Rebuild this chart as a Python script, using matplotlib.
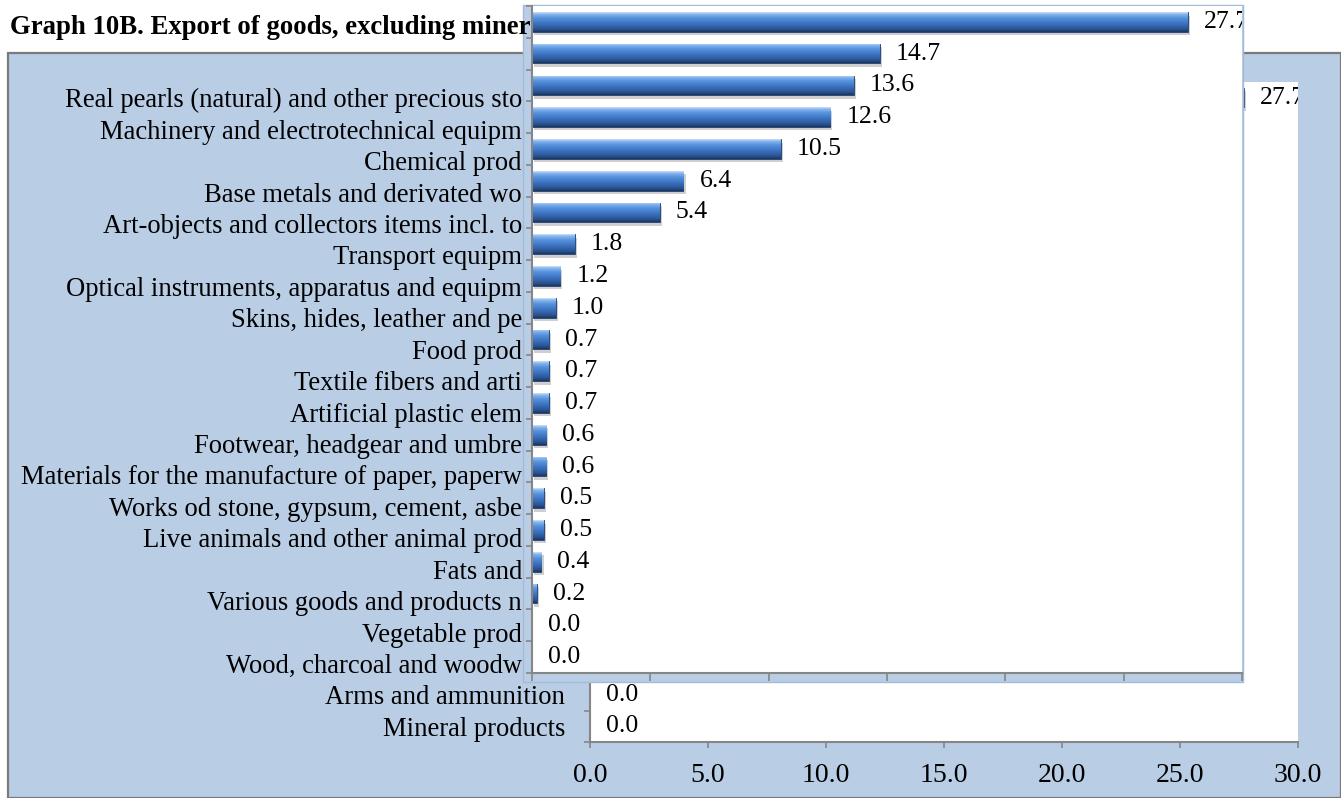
import numpy as np
import matplotlib
matplotlib.use("Agg")
import matplotlib.pyplot as plt
from matplotlib.patches import Rectangle
from matplotlib.colors import LinearSegmentedColormap
from matplotlib.transforms import offset_copy
import matplotlib.patheffects as pe

plt.rcParams['font.family'] = ['Liberation Serif', 'DejaVu Serif']

title = "Graph 10B. Export of goods, excluding miner"
categories = [
    "Real pearls (natural) and other precious sto",
    "Machinery and electrotechnical equipm",
    "Chemical prod",
    "Base metals and derivated wo",
    "Art-objects and collectors items incl. to",
    "Transport equipm",
    "Optical instruments, apparatus and equipm",
    "Skins, hides, leather and pe",
    "Food prod",
    "Textile fibers and arti",
    "Artificial plastic elem",
    "Footwear, headgear and umbre",
    "Materials for the manufacture of paper, paperw",
    "Works od stone, gypsum, cement, asbe",
    "Live animals and other animal prod",
    "Fats and",
    "Various goods and products n",
    "Vegetable prod",
    "Wood, charcoal and woodw",
    "Arms and ammunition",
    "Mineral products",
]
values = [27.7, 14.7, 13.6, 12.6, 10.5, 6.4, 5.4, 1.8, 1.2, 1.0, 0.7, 0.7,
          0.7, 0.6, 0.6, 0.5, 0.5, 0.4, 0.2, 0.0, 0.0]
# labels that are fully visible (not cut by the overlapping inset window)
full_label = [False] * 19 + [True, True]
xticks = [0, 5, 10, 15, 20, 25, 30]

W, H = 1341, 798
fig = plt.figure(figsize=(W / 100, H / 100), dpi=100)
fig.patch.set_facecolor('white')

PANEL = '#b9cde5'
AXIS = '#868686'

# light-blue panel with grey border
fig.add_artist(Rectangle((8 / W, 0), (W - 8) / W, (H - 53) / H,
                         transform=fig.transFigure, facecolor=PANEL,
                         edgecolor='#7a7a7a', lw=1.6, zorder=-5))

fig.text(10 / W, 1 - 27 / H, title, fontsize=19.3, fontweight='bold',
         va='center', ha='left', zorder=3)

cmap = LinearSegmentedColormap.from_list('bar', [
    (0.0, '#cfe0f7'), (0.10, '#86b6ee'), (0.30, '#5592dc'),
    (0.60, '#3b6fbe'), (0.85, '#2b5594'), (1.0, '#1b365f')])
grad = cmap(np.linspace(0, 1, 64))[:, None, :]

n = len(categories)
ypos = np.arange(n)


def draw_bars(ax):
    bars = ax.barh(ypos, values, height=0.62, color='#3b6fbe',
                   edgecolor='#1f3f6e', lw=0.6, zorder=2,
                   path_effects=[pe.SimplePatchShadow(offset=(1.5, -2.5),
                                                      shadow_rgbFace='#777777',
                                                      alpha=0.35),
                                 pe.Normal()])
    for p in bars.patches:
        if p.get_width() <= 0:
            continue
        x0, y0, w, h = p.get_x(), p.get_y(), p.get_width(), p.get_height()
        im = ax.imshow(grad, extent=(x0, x0 + w, y0 + h, y0), aspect='auto',
                       interpolation='bilinear', zorder=2.5, origin='upper')
        im.set_clip_path(p)
    tr = offset_copy(ax.transData, fig=fig, x=16, y=0, units='dots')
    for i, v in enumerate(values):
        ax.text(v, i, f"{v:.1f}", transform=tr, ha='left', va='center',
                fontsize=18.5, clip_on=True, zorder=4)
    ax.set_xlim(xticks[0], xticks[-1])
    ax.set_ylim(n - 0.5, -0.5)


def style_axes(ax):
    for s in ['top', 'right']:
        ax.spines[s].set_visible(False)
    for s in ['left', 'bottom']:
        ax.spines[s].set_color(AXIS)
        ax.spines[s].set_linewidth(1.5)
    ax.set_yticks(np.arange(-0.5, n, 1.0), minor=True)
    ax.tick_params(axis='y', which='minor', length=4.5, width=1.2,
                   color=AXIS, direction='out')


# ---- background chart ----
bg = fig.add_axes([590 / W, (H - 742) / H, (1298 - 590) / W, (742 - 82) / H],
                  zorder=0)
bg.set_facecolor('white')
draw_bars(bg)
style_axes(bg)
bg.set_yticks(ypos)
bg.set_yticklabels(categories, fontsize=19.2)
bg.tick_params(axis='y', which='major', length=0)
for t, full in zip(bg.yaxis.get_major_ticks(), full_label):
    t.set_pad(18 if full else 49)
bg.set_xticks(xticks)
bg.set_xticklabels([f"{x:.1f}" for x in xticks], fontsize=20)
bg.tick_params(axis='x', length=4, width=1.2, color=AXIS, pad=11,
               direction='out')

# ---- overlapping inset window ----
fig.add_artist(Rectangle((523 / W, (H - 682) / H), 720 / W, 677 / H,
                         transform=fig.transFigure, facecolor=PANEL,
                         edgecolor='#a3bbd8', lw=1.0, zorder=1))
ins = fig.add_axes([532 / W, (H - 673) / H, (1242 - 532) / W, (673 - 6) / H],
                   zorder=2)
ins.set_facecolor('white')
draw_bars(ins)
style_axes(ins)
ins.set_yticks(ypos)
ins.set_yticklabels([])
ins.tick_params(axis='y', which='major', length=0)
ins.set_xticks(xticks)
ins.set_xticklabels([])
ins.tick_params(axis='x', length=6, width=1.2, color=AXIS, direction='out')

fig.savefig('out.png', dpi=100)
